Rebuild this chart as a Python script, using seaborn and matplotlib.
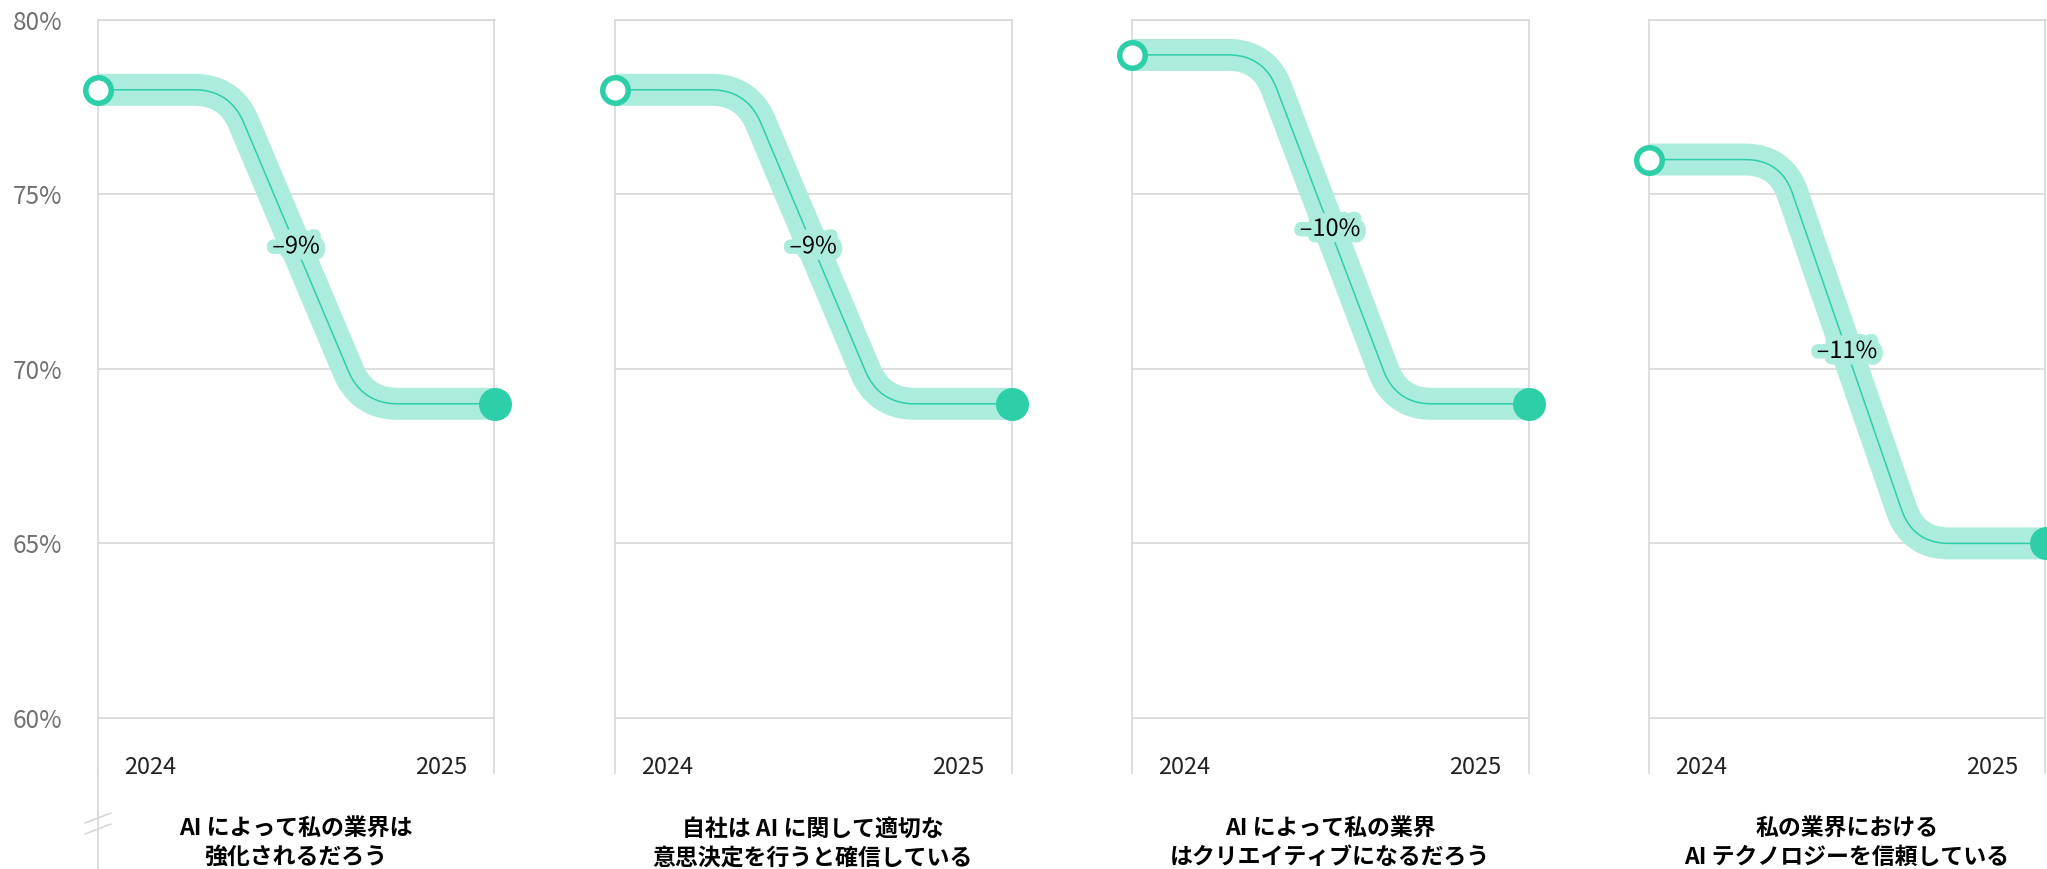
import numpy as np
import pandas as pd
import matplotlib.pyplot as plt
import matplotlib.patheffects as pe
import seaborn as sns

# chart data
titles = [
    "AI によって私の業界は\n強化されるだろう",
    "自社は AI に関して適切な\n意思決定を行うと確信している",
    "AI によって私の業界\nはクリエイティブになるだろう",
    "私の業界における\nAI テクノロジーを信頼している",
]
years = [2024, 2025]
values_2024 = [78, 78, 79, 76]
values_2025 = [69, 69, 69, 65]
y_ticks = [60, 65, 70, 75, 80]

TEAL = "#2dcfa9"
BAND = "#acecdd"
GRID = "#d4d4d4"

W, H = 2047, 869
sns.set_theme(style="white")
plt.rcParams["font.family"] = ["Noto Sans CJK JP", "DejaVu Sans"]

fig = plt.figure(figsize=(W / 100, H / 100), dpi=100)


def px(v):
    # pixels -> points at dpi 100
    return v * 72 / 100


def rounded_step(ax, x0, x1, y0, y1, r=36, n=30):
    """flat - slope - flat path between two points, corners rounded in pixel space"""
    xa = x0 + (x1 - x0) / 3
    xb = x0 + 2 * (x1 - x0) / 3
    pts = ax.transData.transform([(x0, y0), (xa, y0), (xb, y1), (x1, y1)])
    out = [pts[0]]
    t = np.linspace(0, 1, n)[:, None]
    for i in (1, 2):
        c = pts[i]
        u_in = (c - pts[i - 1]) / np.linalg.norm(c - pts[i - 1])
        u_out = (pts[i + 1] - c) / np.linalg.norm(pts[i + 1] - c)
        a = c - r * u_in
        b = c + r * u_out
        out.extend((1 - t) ** 2 * a + 2 * (1 - t) * t * c + t ** 2 * b)
    out.append(pts[3])
    return ax.transData.inverted().transform(np.array(out))


ax_w, ax_top, ax_bot = 397, 20, 773
for i, title in enumerate(titles):
    left = 97.5 + 517 * i
    ax = fig.add_axes([left / W, 1 - ax_bot / H, ax_w / W, (ax_bot - ax_top) / H])
    ax.set_xlim(years[0], years[1])
    ax.set_ylim(58.42, 80)
    ax.set_yticks(y_ticks)
    ax.set_xticks([])
    ax.grid(axis="y", color=GRID, lw=1.1)
    for s in ["left", "right", "top"]:
        ax.spines[s].set_visible(True)
        ax.spines[s].set_color(GRID)
        ax.spines[s].set_linewidth(1.1)
    ax.spines["bottom"].set_visible(False)

    if i == 0:
        ax.set_yticklabels([f"{v}%" for v in y_ticks])
        ax.tick_params(axis="y", length=0, pad=px(85), labelsize=17.5, labelcolor="#707070")
        for lbl in ax.get_yticklabels():
            lbl.set_ha("left")
        # axis break below first panel
        ax.plot([0, 0], [0, -96 / 753], transform=ax.transAxes, color=GRID, lw=1.1, clip_on=False)
        for y_a, y_b in [(-0.081, -0.0677), (-0.0664, -0.0531)]:
            ax.plot([-0.0315, 0.034], [y_a, y_b], transform=ax.transAxes, color=GRID, lw=1.1, clip_on=False)
    else:
        ax.set_yticklabels([])
        ax.tick_params(axis="y", length=0)

    y0, y1 = values_2024[i], values_2025[i]
    path = rounded_step(ax, years[0], years[1], y0, y1)
    df = pd.DataFrame({"x": path[:, 0], "y": path[:, 1]})
    sns.lineplot(data=df, x="x", y="y", sort=False, estimator=None, color=BAND,
                 lw=px(32), solid_capstyle="butt", zorder=2, ax=ax)
    sns.lineplot(data=df, x="x", y="y", sort=False, estimator=None, color=TEAL,
                 lw=1.1, zorder=3, ax=ax)
    sns.scatterplot(x=[years[0]], y=[y0], s=px(25.5) ** 2, color="white", edgecolor=TEAL,
                    linewidth=px(5.5), zorder=5, clip_on=False, ax=ax)
    sns.scatterplot(x=[years[1]], y=[y1], s=px(33) ** 2, color=TEAL, edgecolor=TEAL,
                    linewidth=0, zorder=5, clip_on=False, ax=ax)
    ax.set_xlabel("")
    ax.set_ylabel("")

    delta = round(y1 - y0)
    ax.text(np.mean(years), (y0 + y1) / 2, f"–{abs(delta)}%", ha="center", va="center",
            fontsize=17, color="black", zorder=4,
            path_effects=[pe.withStroke(linewidth=px(13), foreground=BAND)])

    ax.annotate(str(years[0]), xy=(0, 0), xycoords="axes fraction", xytext=(px(27), px(-1)),
                textcoords="offset points", ha="left", va="baseline", fontsize=17, color="#222222")
    ax.annotate(str(years[1]), xy=(1, 0), xycoords="axes fraction", xytext=(px(-27), px(-1)),
                textcoords="offset points", ha="right", va="baseline", fontsize=17, color="#222222")
    ax.annotate(title, xy=(0.5, 0), xycoords="axes fraction", xytext=(0, -px(70.5)),
                textcoords="offset points", ha="center", va="center", multialignment="center",
                fontsize=16.5, fontweight="bold", linespacing=1.3, color="black")

fig.savefig("out.png", dpi=100)
